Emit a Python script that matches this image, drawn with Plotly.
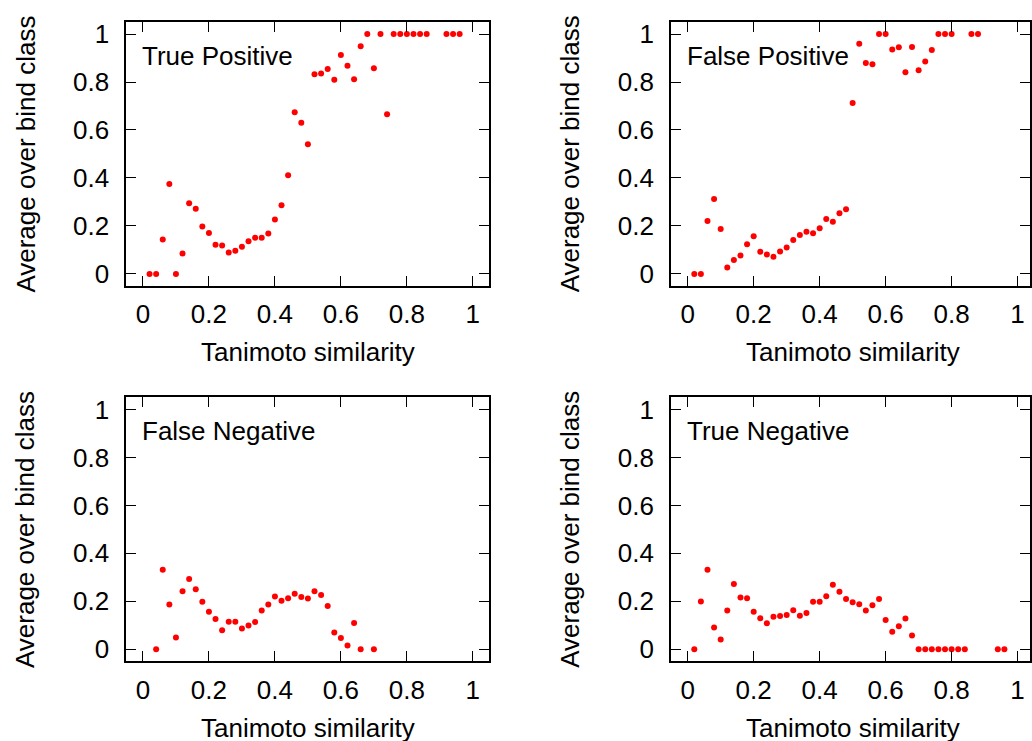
import plotly.graph_objects as go

# Bin centres (Tanimoto similarity) and the average over bind class per panel
tp_x = [0.02, 0.04, 0.06, 0.08, 0.10, 0.12, 0.14, 0.16, 0.18, 0.20, 0.22, 0.24,
        0.26, 0.28, 0.30, 0.32, 0.34, 0.36, 0.38, 0.40, 0.42, 0.44, 0.46, 0.48,
        0.50, 0.52, 0.54, 0.56, 0.58, 0.60, 0.62, 0.64, 0.66, 0.68, 0.70, 0.72,
        0.74, 0.76, 0.78, 0.80, 0.82, 0.84, 0.86, 0.92, 0.94, 0.96]
tp_y = [0.0, 0.0, 0.143, 0.375, 0.0, 0.085, 0.295, 0.272, 0.198, 0.170, 0.121, 0.118,
        0.089, 0.096, 0.113, 0.136, 0.151, 0.151, 0.168, 0.227, 0.286, 0.411, 0.674, 0.630,
        0.540, 0.832, 0.835, 0.854, 0.809, 0.913, 0.868, 0.812, 0.949, 1.0, 0.857, 1.0,
        0.666, 1.0, 1.0, 1.0, 1.0, 1.0, 1.0, 1.0, 1.0, 1.0]

fp_x = [0.02, 0.04, 0.06, 0.08, 0.10, 0.12, 0.14, 0.16, 0.18, 0.20, 0.22, 0.24,
        0.26, 0.28, 0.30, 0.32, 0.34, 0.36, 0.38, 0.40, 0.42, 0.44, 0.46, 0.48,
        0.50, 0.52, 0.54, 0.56, 0.58, 0.60, 0.62, 0.64, 0.66, 0.68, 0.70, 0.72,
        0.74, 0.76, 0.78, 0.80, 0.86, 0.88]
fp_y = [0.0, 0.0, 0.221, 0.312, 0.187, 0.027, 0.058, 0.077, 0.124, 0.157, 0.092, 0.081,
        0.071, 0.093, 0.110, 0.141, 0.162, 0.176, 0.169, 0.190, 0.229, 0.217, 0.253, 0.269,
        0.712, 0.959, 0.879, 0.874, 1.0, 1.0, 0.935, 0.945, 0.841, 0.946, 0.849, 0.885,
        0.933, 1.0, 1.0, 1.0, 1.0, 1.0]

fn_x = [0.04, 0.06, 0.08, 0.10, 0.12, 0.14, 0.16, 0.18, 0.20, 0.22, 0.24, 0.26,
        0.28, 0.30, 0.32, 0.34, 0.36, 0.38, 0.40, 0.42, 0.44, 0.46, 0.48, 0.50,
        0.52, 0.54, 0.56, 0.58, 0.60, 0.62, 0.64, 0.66, 0.70]
fn_y = [0.0, 0.332, 0.187, 0.049, 0.242, 0.293, 0.251, 0.198, 0.157, 0.126, 0.080, 0.115,
        0.115, 0.087, 0.099, 0.114, 0.162, 0.187, 0.220, 0.203, 0.213, 0.232, 0.218, 0.212,
        0.242, 0.227, 0.181, 0.070, 0.047, 0.016, 0.110, 0.0, 0.0]

tn_x = [0.02, 0.04, 0.06, 0.08, 0.10, 0.12, 0.14, 0.16, 0.18, 0.20, 0.22, 0.24,
        0.26, 0.28, 0.30, 0.32, 0.34, 0.36, 0.38, 0.40, 0.42, 0.44, 0.46, 0.48,
        0.50, 0.52, 0.54, 0.56, 0.58, 0.60, 0.62, 0.64, 0.66, 0.68, 0.70, 0.72,
        0.74, 0.76, 0.78, 0.80, 0.82, 0.84, 0.94, 0.96]
tn_y = [0.0, 0.199, 0.332, 0.091, 0.041, 0.162, 0.272, 0.216, 0.213, 0.157, 0.130, 0.109,
        0.136, 0.139, 0.143, 0.163, 0.140, 0.151, 0.198, 0.198, 0.221, 0.269, 0.240, 0.210,
        0.196, 0.188, 0.162, 0.184, 0.210, 0.122, 0.073, 0.096, 0.129, 0.058, 0.0, 0.0,
        0.0, 0.0, 0.0, 0.0, 0.0, 0.0, 0.0, 0.0]

panel_titles = ["True Positive", "False Positive", "False Negative", "True Negative"]
x_title = "Tanimoto similarity"
y_title = "Average over bind class"
tick_vals = [0, 0.2, 0.4, 0.6, 0.8, 1]
tick_text = ["0", "0.2", "0.4", "0.6", "0.8", "1"]

W, H = 1032, 741
FONT = "Liberation Sans, Arial, Helvetica, sans-serif"
FS = 26

# panel frames in pixels: (left, right, top, bottom) and x range
left_px = (126.7, 490.3)
scale_x = (left_px[1] - left_px[0]) / 1.1
right_left = 672.5
right_xmax = -0.05 + (W - right_left) / scale_x
top_px = (19.2, 285.2)
bot_px = (397.7, 663.7)

def xd(a, b):
    return [a / W, min(b / W, 1.0)]

def yd(t, b):
    return [1 - b / H, 1 - t / H]

panels = [
    (tp_x, tp_y, xd(*left_px), yd(*top_px), [-0.05, 1.05]),
    (fp_x, fp_y, xd(right_left, W), yd(*top_px), [-0.05, right_xmax]),
    (fn_x, fn_y, xd(*left_px), yd(*bot_px), [-0.05, 1.05]),
    (tn_x, tn_y, xd(right_left, W), yd(*bot_px), [-0.05, right_xmax]),
]

fig = go.Figure()
annotations = []
layout_axes = {}
for i, (px, py, xdom, ydom, xr) in enumerate(panels, start=1):
    sx = "" if i == 1 else str(i)
    fig.add_trace(go.Scatter(
        x=px, y=py, mode="markers", xaxis="x" + sx, yaxis="y" + sx,
        marker=dict(color="#ff0000", size=6, line=dict(width=0)),
        showlegend=False, hoverinfo="x+y",
    ))
    common = dict(
        showline=True, linecolor="black", linewidth=2, mirror="allticks",
        ticks="inside", ticklen=10, tickwidth=1.2, tickcolor="black",
        showgrid=False, zeroline=False,
        tickfont=dict(family=FONT, size=FS, color="black"),
        tickvals=tick_vals, ticktext=tick_text,
    )
    layout_axes["xaxis" + sx] = dict(domain=xdom, range=xr, anchor="y" + sx,
                                     ticklabelstandoff=4, **common)
    layout_axes["yaxis" + sx] = dict(domain=ydom, range=[-0.05, 1.05], anchor="x" + sx,
                                     ticklabelstandoff=10, **common)
    annotations.append(dict(
        xref="x" + sx, yref="y" + sx, x=-0.008, y=0.91, xanchor="left", yanchor="middle",
        text=panel_titles[i - 1], showarrow=False,
        font=dict(family=FONT, size=FS, color="black"),
    ))
    # axis titles
    x0 = (xdom[0] * W + 16.5 + 0.5 * scale_x) / W
    annotations.append(dict(
        xref="paper", yref="paper", x=x0, y=ydom[0] - 67 / H,
        xanchor="center", yanchor="middle", text=x_title, showarrow=False,
        font=dict(family=FONT, size=FS, color="black"),
    ))
    annotations.append(dict(
        xref="paper", yref="paper", x=xdom[0] - 101 / W, y=(ydom[0] + ydom[1]) / 2,
        xanchor="center", yanchor="middle", text=y_title, showarrow=False, textangle=-90,
        font=dict(family=FONT, size=FS, color="black"),
    ))

fig.update_layout(
    width=W, height=H, margin=dict(l=0, r=0, t=0, b=0),
    paper_bgcolor="white", plot_bgcolor="white",
    annotations=annotations, **layout_axes,
)

fig.write_html("out.html")
